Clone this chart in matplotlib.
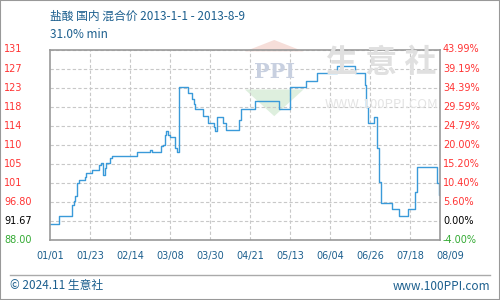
import matplotlib
matplotlib.use("Agg")
import matplotlib.pyplot as plt
import matplotlib.dates as mdates
import matplotlib.transforms as mtransforms
from matplotlib.patches import Rectangle, Polygon
from matplotlib.lines import Line2D
import numpy as np

plt.rcParams['font.family'] = ['Noto Sans CJK SC', 'DejaVu Sans']

# price change points (date, value), drawn as steps
dates = ['2013-01-01', '2013-01-06', '2013-01-13', '2013-01-14', '2013-01-15',
         '2013-01-16', '2013-01-17', '2013-01-20', '2013-01-21', '2013-01-24',
         '2013-01-28', '2013-01-29', '2013-01-30', '2013-01-31', '2013-02-01',
         '2013-02-03', '2013-02-04', '2013-02-18', '2013-02-25', '2013-02-26',
         '2013-03-03', '2013-03-04', '2013-03-05', '2013-03-06', '2013-03-07',
         '2013-03-08', '2013-03-11', '2013-03-12', '2013-03-13', '2013-03-18',
         '2013-03-20', '2013-03-21', '2013-03-22', '2013-03-26', '2013-03-29',
         '2013-04-01', '2013-04-02', '2013-04-03', '2013-04-06', '2013-04-08',
         '2013-04-15', '2013-04-16', '2013-04-24', '2013-05-07', '2013-05-13',
         '2013-05-22', '2013-05-28', '2013-06-08', '2013-06-18', '2013-06-23',
         '2013-06-24', '2013-06-25', '2013-06-28', '2013-06-30', '2013-07-01',
         '2013-07-02', '2013-07-08', '2013-07-12', '2013-07-17', '2013-07-21',
         '2013-07-22', '2013-08-02', '2013-08-03', '2013-08-05']
prices = [91.67, 93.5, 96.0, 96.9, 98.2,
          101.1, 101.9, 102.5, 103.4, 104.1,
          105.3, 105.7, 103.0, 104.7, 105.7,
          106.9, 107.5, 108.3, 108.7, 108.3,
          109.7, 110.0, 112.3, 113.2, 112.3,
          111.7, 109.2, 108.3, 123.3, 121.9,
          120.5, 119.5, 118.2, 116.6, 115.1,
          114.2, 113.2, 116.5, 115.0, 113.4,
          115.7, 118.2, 120.0, 118.2, 123.3,
          124.8, 126.5, 128.2, 126.5, 123.8,
          118.8, 115.1, 116.5, 109.2, 101.5,
          96.6, 95.1, 93.5, 95.1, 99.0,
          104.9, 101.1, 98.4, 98.4]

x_labels = ['01/01', '01/23', '02/14', '03/08', '03/30', '04/21',
            '05/13', '06/04', '06/26', '07/18', '08/09']
left_labels = ['88.00', '91.67', '96.80', '101', '105', '110',
               '114', '118', '123', '127', '131']
right_labels = ['-4.00%', '0.00%', '5.60%', '10.40%', '15.20%', '20.00%',
                '24.79%', '29.59%', '34.39%', '39.19%', '43.99%']
label_colors = ['#33aa33', 'black'] + ['#ff3333'] * 9

title_text = '盐酸 国内 混合价 2013-1-1 - 2013-8-9'
sub_text = '31.0% min'

blue_text = '#1c5f8e'
fig = plt.figure(figsize=(5, 3), dpi=100)
ax = fig.add_axes([0.1, 0.2, 0.78, 0.635])

xs = mdates.datestr2num(dates)
start = mdates.datestr2num('2013-01-01')

# watermark first so the line sits on top
ax.add_patch(Polygon([(0.50, 0.99), (0.65, 0.99), (0.575, 1.05)],
                     closed=True, transform=ax.transAxes,
                     color='#f4d6d0', alpha=0.8, lw=0, clip_on=False))
ax.add_patch(Polygon([(0.50, 0.79), (0.65, 0.79), (0.575, 0.65)],
                     closed=True, transform=ax.transAxes,
                     color='#d6ecd6', alpha=0.8, lw=0))
ax.text(0.575, 0.88, 'PPI', transform=ax.transAxes, ha='center', va='center',
        fontsize=15, color='#c8d0e0', family='DejaVu Serif', fontweight='bold')
ax.text(0.85, 0.93, '生 意 社', transform=ax.transAxes, ha='center',
        va='center', fontsize=23, color='#e0e0e0', fontweight='bold')
ax.text(0.85, 0.71, 'WWW.100PPI.COM', transform=ax.transAxes, ha='center',
        va='center', fontsize=9.5, color='#e4e4e4')

ax.plot(xs, prices, drawstyle='steps-post', color='#3a9ad9', lw=1.0)

ax.set_xlim(start, start + 214.5)
ymin, ymax = 88.0, 131.99
ax.set_ylim(ymin, ymax)
yt = np.linspace(ymin, ymax, 11)
ax.set_yticks(yt)
ax.set_xticks(start + 22 * np.arange(1, 10))
ax.tick_params(length=0, labelleft=False, labelbottom=False)
ax.grid(True, color='#c8c8c8', linestyle=(0, (3, 2)), lw=0.8)
for s in ax.spines.values():
    s.set_color('#999999')
    s.set_linewidth(1.2)

# y labels on both sides
tl = mtransforms.blended_transform_factory(fig.transFigure, ax.transData)
for v, lab, c in zip(yt, left_labels, label_colors):
    ax.text(4 / 500, v, lab, transform=tl, ha='left', va='center',
            fontsize=7, color=c, family='DejaVu Sans')
for v, lab, c in zip(yt, right_labels, label_colors):
    ax.text(443 / 500, v, lab, transform=tl, ha='left', va='center',
            fontsize=7, color=c, family='DejaVu Sans')

# x labels
tb = mtransforms.blended_transform_factory(ax.transData, fig.transFigure)
for i, lab in enumerate(x_labels):
    ax.text(start + 22 * i, 1 - 256 / 300, lab, transform=tb, ha='center',
            va='center', fontsize=7, color=blue_text, family='DejaVu Sans',
            clip_on=False)

# titles
fig.text(50 / 500, 1 - 16 / 300, title_text, fontsize=8.5, color=blue_text,
         ha='left', va='center')
fig.text(50 / 500, 1 - 34 / 300, sub_text, fontsize=8.5, color=blue_text,
         ha='left', va='center')

# footer
fig.add_artist(Line2D([10 / 500, 490 / 500], [1 - 275 / 300, 1 - 275 / 300],
                      transform=fig.transFigure, color='#aaaaaa', lw=1))
fig.text(10 / 500, 1 - 286 / 300, '© 2024.11 生意社', fontsize=8.5,
         color=blue_text, ha='left', va='center')
fig.text(490 / 500, 1 - 286 / 300, 'www.100PPI.com', fontsize=8.5,
         color=blue_text, ha='right', va='center')

# outer border
fig.add_artist(Rectangle((0, 0), 1, 1, transform=fig.transFigure, fill=False,
                         edgecolor='#999999', lw=1.5))

fig.savefig('out.png', dpi=100)
